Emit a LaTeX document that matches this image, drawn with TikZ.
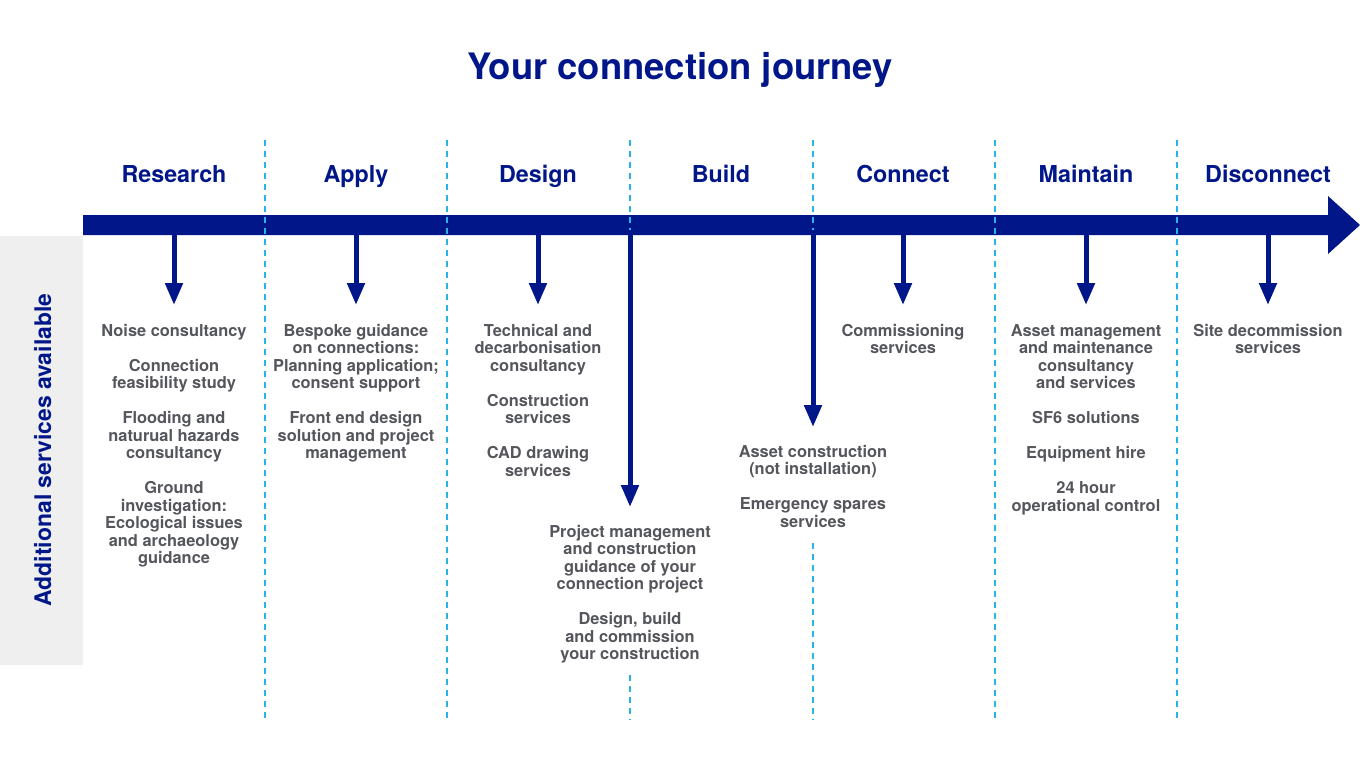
\documentclass[tikz,border=0pt]{standalone}
\usepackage{fontspec}
\setmainfont{TeX Gyre Heros}
\usetikzlibrary{positioning,arrows.meta}
\definecolor{journeyblue}{RGB}{0,22,137}
\definecolor{dashblue}{RGB}{41,178,230}
\definecolor{servicegrey}{RGB}{84,86,92}
\definecolor{bandgrey}{RGB}{239,239,239}
\begin{document}
\begin{tikzpicture}
[x=1pt,y=1pt,
  titledecorate/.style={text=journeyblue,font=\fontsize{36.4}{40}\selectfont\bfseries,inner sep=0pt,anchor=base},
  stagedecorate/.style={text=journeyblue,font=\fontsize{23.3}{26}\selectfont\bfseries,inner sep=0pt,anchor=base},
  servicedecorate/.style={text=servicegrey,font=\fontsize{16.4}{17.5}\selectfont\bfseries,align=center,inner sep=0pt},
  arrowdecorate/.style={-{Triangle[width=17pt,length=22pt]},line width=5pt,journeyblue},
  linedecorate/.style={dashblue,line width=1.5pt,dash pattern=on 6pt off 5pt}]
\useasboundingbox (0,0) rectangle (1360,-766);
%%% title and side band
\node (title) at (680,-79) [titledecorate] {Your connection journey};
\fill[bandgrey] (0,-236) rectangle (83,-665);
\node (side) at (51,-450) [titledecorate,font=\fontsize{22.9}{26}\selectfont\bfseries,rotate=90] {Additional services available};
%%% timeline
\fill[journeyblue] (83,-215) -- (1328,-215) -- (1328,-196) -- (1360,-225)
  -- (1328,-254) -- (1328,-235) -- (83,-235) -- cycle;
% stage names
\node (research) at (174,-182) [stagedecorate] {Research};
\node (apply) at (356,-182) [stagedecorate] {Apply};
\node (design) at (538,-182) [stagedecorate] {Design};
\node (build) at (721,-182) [stagedecorate] {Build};
\node (connect) at (903,-182) [stagedecorate] {Connect};
\node (maintain) at (1086,-182) [stagedecorate] {Maintain};
\node (disconnect) at (1268,-182) [stagedecorate] {Disconnect};
% dividers
\draw[linedecorate] (265,-140) -- (265,-720);
\draw[linedecorate] (447,-140) -- (447,-720);
\draw[linedecorate] (630,-140) -- (630,-230);
\draw[linedecorate] (630,-675) -- (630,-720);
\draw[linedecorate] (813,-140) -- (813,-230);
\draw[linedecorate] (813,-543) -- (813,-720);
\draw[linedecorate] (995,-140) -- (995,-720);
\draw[linedecorate] (1177,-140) -- (1177,-720);
%%% arrows down to the services
% start and end points
\coordinate (a1) at (174,-232); \coordinate (b1) at (174,-305);
\coordinate (a2) at (356,-232); \coordinate (b2) at (356,-305);
\coordinate (a3) at (538,-232); \coordinate (b3) at (538,-305);
\coordinate (a4) at (630,-232); \coordinate (b4) at (630,-507);
\coordinate (a5) at (813,-232); \coordinate (b5) at (813,-427);
\coordinate (a6) at (903,-232); \coordinate (b6) at (903,-305);
\coordinate (a7) at (1086,-232); \coordinate (b7) at (1086,-305);
\coordinate (a8) at (1268,-232); \coordinate (b8) at (1268,-305);
\path
(a1) edge[arrowdecorate] (b1)
(a2) edge[arrowdecorate] (b2)
(a3) edge[arrowdecorate] (b3)
(a4) edge[arrowdecorate] (b4)
(a5) edge[arrowdecorate] (b5)
(a6) edge[arrowdecorate] (b6)
(a7) edge[arrowdecorate] (b7)
(a8) edge[arrowdecorate] (b8);
% services
\node (s1) [below=19pt of b1,servicedecorate] {Noise consultancy\\[17.5pt]
  Connection\\feasibility study\\[17.5pt]
  Flooding and\\naturual hazards\\consultancy\\[17.5pt]
  Ground\\investigation:\\Ecological issues\\and archaeology\\guidance};
\node (s2) [below=19pt of b2,servicedecorate] {Bespoke guidance\\on connections:\\Planning application;\\consent support\\[17.5pt]
  Front end design\\solution and project\\management};
\node (s3) [below=19pt of b3,servicedecorate] {Technical and\\decarbonisation\\consultancy\\[17.5pt]
  Construction\\services\\[17.5pt]
  CAD drawing\\services};
\node (s4) [below=18pt of b4,servicedecorate] {Project management\\and construction\\guidance of your\\connection project\\[17.5pt]
  Design, build\\and commission\\your construction};
\node (s5) [below=18pt of b5,servicedecorate] {Asset construction\\(not installation)\\[17.5pt]
  Emergency spares\\services};
\node (s6) [below=19pt of b6,servicedecorate] {Commissioning\\services};
\node (s7) [below=19pt of b7,servicedecorate] {Asset management\\and maintenance\\consultancy\\and services\\[17.5pt]
  SF6 solutions\\[17.5pt]
  Equipment hire\\[17.5pt]
  24 hour\\operational control};
\node (s8) [below=19pt of b8,servicedecorate] {Site decommission\\services};
\end{tikzpicture}
\end{document}
